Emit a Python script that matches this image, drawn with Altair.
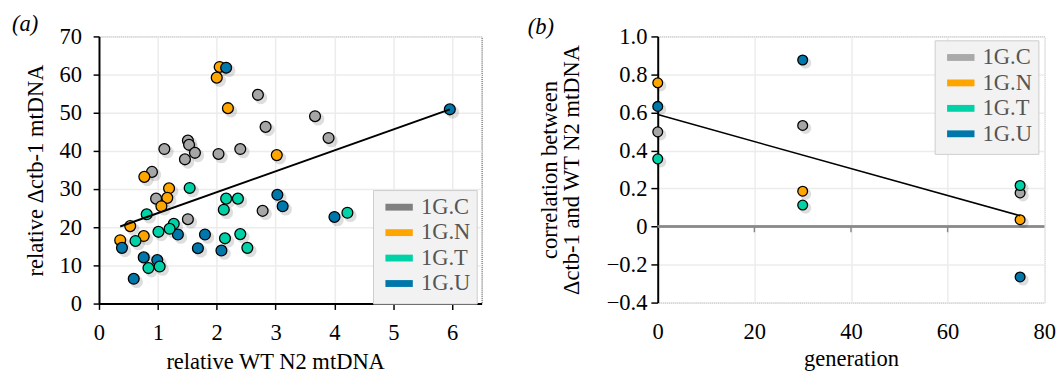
import altair as alt
import pandas as pd

FONT = "Liberation Serif"

groups = ["1G.C", "1G.N", "1G.T", "1G.U"]
point_colors = ["#a6a6a6", "#ffa500", "#00d2a8", "#0077aa"]
legend_colors_a = ["#808080", "#ffa500", "#00d2a8", "#0077aa"]
legend_colors_b = ["#a9a9a9", "#ffa500", "#00d2a8", "#0077aa"]

# ---- panel (a) data ----
c_x = [2.70, 3.67, 3.90, 2.83, 2.40, 2.03, 1.11, 1.51, 1.53, 1.46, 1.63, 0.90, 0.97, 1.51, 2.78]
c_y = [54.7, 49.1, 43.4, 46.3, 40.5, 39.2, 40.5, 42.7, 41.6, 37.8, 39.5, 34.5, 27.5, 22.1, 24.3]
n_x = [2.05, 2.00, 2.19, 3.02, 0.77, 1.19, 1.16, 1.06, 0.53, 0.76, 0.36]
n_y = [62.0, 59.2, 51.2, 38.9, 33.2, 30.2, 27.7, 25.5, 20.3, 17.7, 16.6]
u_x = [2.16, 5.96, 1.34, 0.39, 1.80, 1.68, 2.08, 0.76, 0.99, 0.59, 3.03, 3.12, 4.00]
u_y = [61.8, 50.9, 18.1, 14.6, 18.1, 14.5, 13.9, 12.1, 11.4, 6.5, 28.5, 25.5, 22.7]
t_x = [1.54, 0.81, 1.27, 1.20, 1.01, 0.62, 2.14, 2.40, 2.52, 2.16, 2.36, 2.12, 0.84, 1.03, 4.22]
t_y = [30.3, 23.4, 20.9, 19.6, 18.8, 16.4, 17.1, 18.2, 14.6, 27.5, 27.5, 24.6, 9.3, 9.7, 23.8]

fit_a_x = [0.36, 5.96]
fit_a_y = [20.2, 50.9]

a_ticks_x = [0, 1, 2, 3, 4, 5, 6]
a_ticks_y = [0, 10, 20, 30, 40, 50, 60, 70]

# ---- panel (b) data ----
generation = [0, 30, 75]
b_c = [0.498, 0.532, 0.177]
b_n = [0.756, 0.186, 0.036]
b_t = [0.356, 0.113, 0.216]
b_u = [0.632, 0.876, -0.265]

fit_b_x = [0, 75]
fit_b_y = [0.589, 0.057]

b_ticks_x = [0, 20, 40, 60, 80]
b_ticks_y = [-0.4, -0.2, 0, 0.2, 0.4, 0.6, 0.8, 1.0]
b_zero_ticks = [20, 40, 60]

rows_a = []
for g, xs, ys in [("1G.C", c_x, c_y), ("1G.N", n_x, n_y), ("1G.U", u_x, u_y), ("1G.T", t_x, t_y)]:
    for xv, yv in zip(xs, ys):
        rows_a.append({"x": xv, "y": yv, "g": g})
df_a = pd.DataFrame(rows_a)
df_fit_a = pd.DataFrame({"x": fit_a_x, "y": fit_a_y})

rows_b = []
for g, ys in [("1G.C", b_c), ("1G.N", b_n), ("1G.U", b_u), ("1G.T", b_t)]:
    for xv, yv in zip(generation, ys):
        rows_b.append({"x": xv, "y": yv, "g": g})
df_b = pd.DataFrame(rows_b)
df_fit_b = pd.DataFrame({"x": fit_b_x, "y": fit_b_y})
df_zero = pd.DataFrame({"x": b_zero_ticks, "y": [0] * len(b_zero_ticks), "y2": [-0.03] * len(b_zero_ticks)})


def legend(lx, ly):
    return alt.Legend(
        title=None, orient="none", legendX=lx, legendY=ly,
        symbolType="M-0.6,0H2.9", symbolSize=256,
        symbolStrokeWidth=7, symbolOpacity=1,
        labelFont=FONT, labelFontSize=23, labelColor="#555555",
        fillColor="#f2f2f2", strokeColor="#cccccc", padding=6,
        rowPadding=-4.5, labelOffset=20,
    )


common_axis = dict(labelOverlap=False, labelFlush=False, labelBound=False)

# ---------------- panel (a) ----------------
xa = alt.X("x:Q", scale=alt.Scale(domain=[0, 6.5], nice=False),
           axis=alt.Axis(values=a_ticks_x, title="relative WT N2 mtDNA", format="d",
                         tickSize=6, labelPadding=13, titlePadding=6, titleX=180,
                         domainColor="black", domainWidth=2, tickColor="black", tickWidth=1.5,
                         **common_axis))
ya = alt.Y("y:Q", scale=alt.Scale(domain=[0, 70], nice=False),
           axis=alt.Axis(values=a_ticks_y, title="relative Δctb-1 mtDNA", format="d",
                         tickSize=6, labelPadding=12, titlePadding=12,
                         domainColor="black", domainWidth=2, tickColor="black", tickWidth=1.5,
                         **common_axis))

leg_a = alt.Chart(df_a).mark_point(opacity=0).encode(
    x=xa, y=ya,
    stroke=alt.Stroke("g:N", scale=alt.Scale(domain=groups, range=legend_colors_a), legend=legend(280, 157)),
)
shadow_a = alt.Chart(df_a).mark_circle(color="black", opacity=0.13, size=170, xOffset=3, yOffset=3).encode(x=xa, y=ya)
pts_a = alt.Chart(df_a).mark_circle(size=123, stroke="black", strokeWidth=1.3, opacity=1).encode(
    x=xa, y=ya,
    fill=alt.Fill("g:N", scale=alt.Scale(domain=groups, range=point_colors), legend=None),
)
line_a = alt.Chart(df_fit_a).mark_line(color="black", strokeWidth=2).encode(x=xa, y=ya)

left = alt.layer(leg_a, shadow_a, pts_a, line_a).properties(
    width=391, height=273,
    title=alt.TitleParams("(a)", anchor="start", frame="bounds", dx=-13, offset=-10),
)

# ---------------- panel (b) ----------------
xb = alt.X("x:Q", scale=alt.Scale(domain=[0, 80], nice=False),
           axis=alt.Axis(values=b_ticks_x, title="generation", format="d",
                         ticks=False, domain=False, labelPadding=19, titlePadding=4,
                         **common_axis))
yb = alt.Y("y:Q", scale=alt.Scale(domain=[-0.4, 1.0], nice=False),
           axis=alt.Axis(values=b_ticks_y,
                         title=["correlation between", "Δctb-1 and WT N2 mtDNA"],
                         labelExpr="datum.value == 0 ? '0' : replace(format(datum.value, '.1f'), '-', '–')",
                         tickSize=7, labelPadding=4, titlePadding=23, titleLineHeight=23,
                         domainColor="black", domainWidth=2, tickColor="black", tickWidth=1.5,
                         **common_axis))

zero_rule = alt.Chart(df_zero).mark_rule(color="#888888", strokeWidth=2).encode(y=yb)
zero_ticks = alt.Chart(df_zero).mark_rule(color="#888888", strokeWidth=1.5).encode(x=xb, y=yb, y2="y2:Q")
leg_b = alt.Chart(df_b).mark_point(opacity=0).encode(
    x=xb, y=yb,
    stroke=alt.Stroke("g:N", scale=alt.Scale(domain=groups, range=legend_colors_b), legend=legend(283, 4)),
)
shadow_b = alt.Chart(df_b).mark_circle(color="black", opacity=0.13, size=135, xOffset=3, yOffset=3).encode(x=xb, y=yb)
pts_b = alt.Chart(df_b).mark_circle(size=100, stroke="black", strokeWidth=1.3, opacity=1).encode(
    x=xb, y=yb,
    fill=alt.Fill("g:N", scale=alt.Scale(domain=groups, range=point_colors), legend=None),
)
line_b = alt.Chart(df_fit_b).mark_line(color="black", strokeWidth=1.5).encode(x=xb, y=yb)

right = alt.layer(leg_b, zero_rule, zero_ticks, shadow_b, pts_b, line_b).properties(
    width=395, height=272,
    title=alt.TitleParams("(b)", anchor="start", frame="bounds", dx=-11, offset=-13),
).resolve_scale(stroke="independent")

chart = alt.hconcat(left, right, spacing=45).resolve_scale(fill="independent", stroke="independent").properties(
    padding={"left": 3, "top": 0, "right": 0, "bottom": 0}
).configure_view(
    stroke="#333333", strokeDash=[1, 1], strokeWidth=1
).configure_axis(
    labelFont=FONT, labelFontSize=23, labelColor="black",
    titleFont=FONT, titleFontSize=23, titleFontWeight="normal", titleColor="black",
    gridColor="#ececec", gridWidth=1.5, labelOverlap=False,
).configure_title(
    font=FONT, fontSize=23, fontStyle="italic", fontWeight="normal", color="black"
)

chart.save("out.html", embed_options={"renderer": "svg", "actions": False})
